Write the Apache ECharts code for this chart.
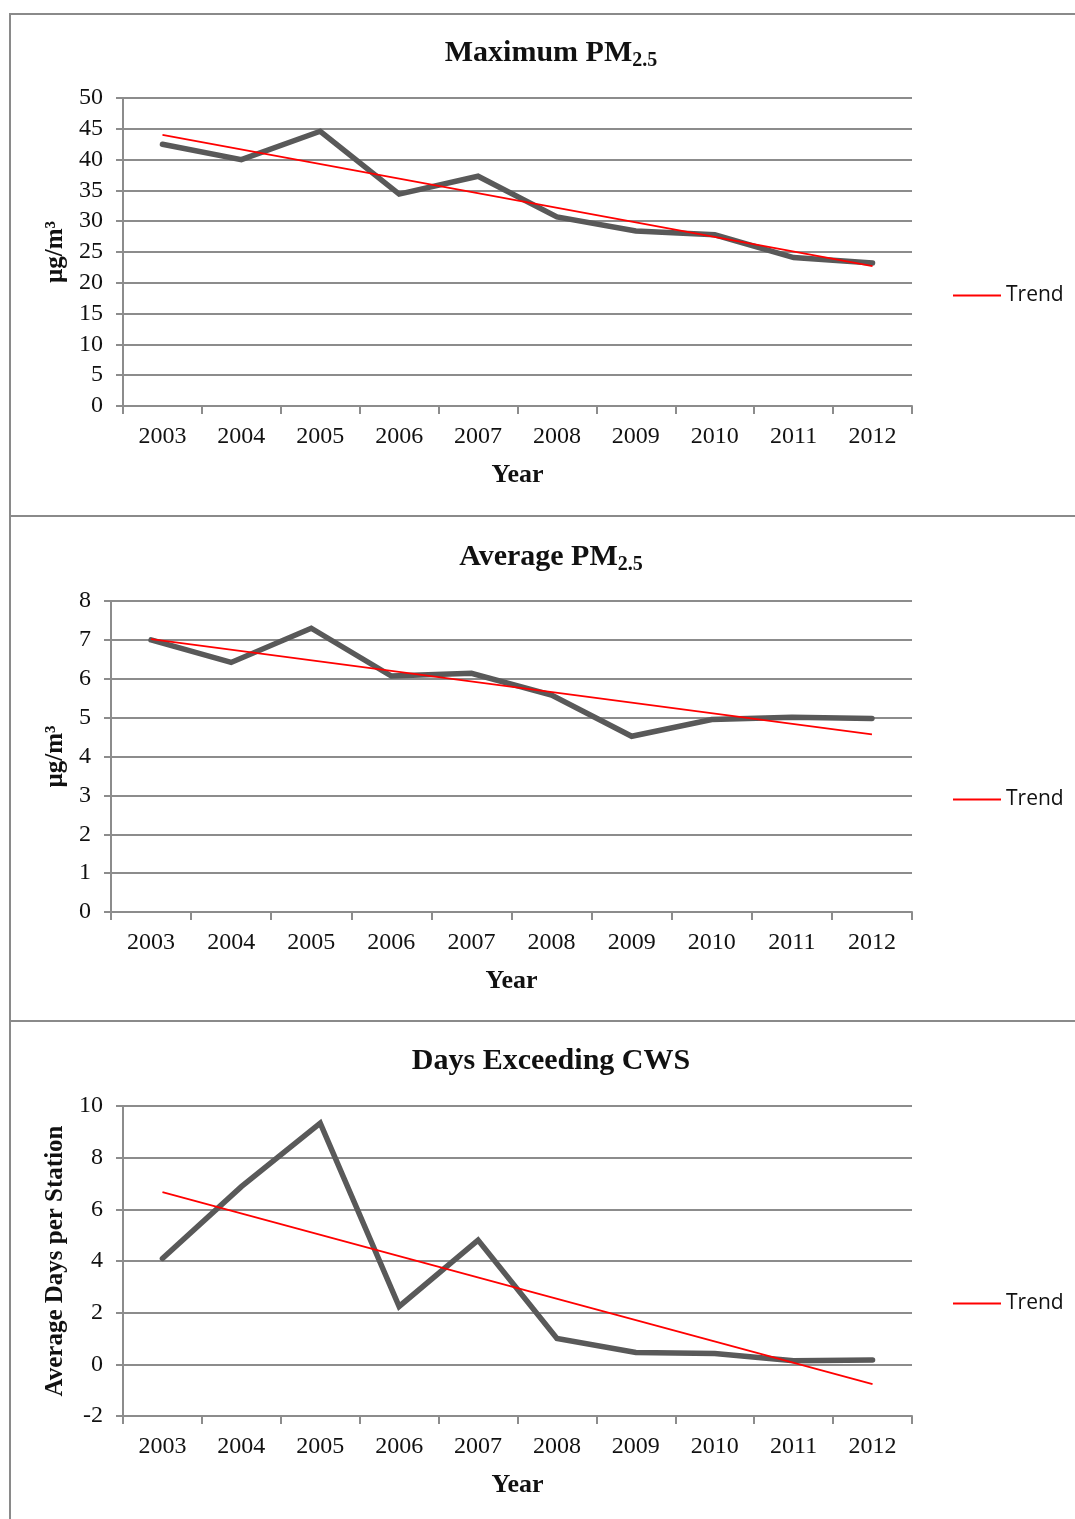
<!DOCTYPE html>
<html>
<head>
<meta charset="utf-8">
<script src="https://cdn.jsdelivr.net/npm/echarts@6/dist/echarts.min.js"></script>
<style>
  html, body { margin: 0; padding: 0; background: #fff; }
  #container { width: 1075px; height: 1519px; }
</style>
</head>
<body>
<div id="container"></div>
<script>
var dom = document.getElementById("container");
var myChart = echarts.init(dom);

var years = ["2003", "2004", "2005", "2006", "2007", "2008", "2009", "2010", "2011", "2012"];
// Maximum PM2.5 (µg/m3)
var maxPM = [42.5, 40.0, 44.6, 34.4, 37.3, 30.7, 28.4, 27.8, 24.1, 23.2];
var maxTrend = [44.0, null, null, null, null, null, null, null, null, 22.7];
// Average PM2.5 (µg/m3)
var avgPM = [7.0, 6.42, 7.3, 6.07, 6.14, 5.58, 4.52, 4.95, 5.01, 4.98];
var avgTrend = [7.02, null, null, null, null, null, null, null, null, 4.57];
// Days exceeding CWS
var daysCWS = [4.1, 6.88, 9.34, 2.24, 4.81, 1.0, 0.46, 0.42, 0.14, 0.17];
var daysTrend = [6.67, null, null, null, null, null, null, null, null, -0.77];

var serif = "'Liberation Serif', 'Times New Roman', serif";
var gridColor = "#8c8c8c";

function titleRich(main, sub) {
  return {
    text: sub ? "{a|" + main + "}{b|" + sub + "}" : "{a|" + main + "}",
    left: 546,
    textAlign: "center",
    textStyle: {
      rich: {
        a: { fontFamily: serif, fontWeight: "bold", fontSize: 30, color: "#111", lineHeight: 36 },
        b: { fontFamily: serif, fontWeight: "bold", fontSize: 20, color: "#111", lineHeight: 36, padding: [15, 0, 0, 0] }
      }
    }
  };
}

function xAxis(gi) {
  return {
    type: "category",
    gridIndex: gi,
    data: years,
    boundaryGap: true,
    name: "Year",
    nameLocation: "middle",
    nameGap: 56,
    nameTextStyle: { fontFamily: serif, fontWeight: "bold", fontSize: 26, color: "#111" },
    axisLine: { onZero: false, lineStyle: { color: gridColor, width: 2 } },
    axisTick: { show: true, length: 8, lineStyle: { color: gridColor, width: 2 } },
    axisLabel: { fontFamily: serif, fontSize: 24, color: "#111", margin: 19 }
  };
}

function yAxis(gi, min, max, interval, name, gap) {
  return {
    type: "value",
    gridIndex: gi,
    min: min,
    max: max,
    interval: interval,
    name: name,
    nameLocation: "middle",
    nameGap: gap,
    nameTextStyle: { fontFamily: serif, fontWeight: "bold", fontSize: 25, color: "#111" },
    axisLine: { show: true, lineStyle: { color: gridColor, width: 2 } },
    axisTick: { show: true, length: 7, lineStyle: { color: gridColor, width: 2 } },
    axisLabel: { fontFamily: serif, fontSize: 24, color: "#111", margin: 20 },
    splitLine: { show: true, lineStyle: { color: gridColor, width: 2 } }
  };
}

function dataSeries(name, idx, values) {
  return {
    name: name,
    type: "line",
    xAxisIndex: idx,
    yAxisIndex: idx,
    data: values,
    showSymbol: false,
    symbol: "none",
    lineStyle: { color: "#595959", width: 5.5, cap: "round", join: "miter" },
    itemStyle: { color: "#595959" },
    z: 3
  };
}

function trendSeries(idx, values) {
  return {
    name: "Trend",
    type: "line",
    xAxisIndex: idx,
    yAxisIndex: idx,
    data: values,
    connectNulls: true,
    showSymbol: false,
    symbol: "none",
    lineStyle: { color: "#ff0000", width: 1.8 },
    itemStyle: { color: "#ff0000" },
    z: 4
  };
}

function legend(top) {
  return {
    data: [{ name: "Trend", icon: "rect" }],
    left: 948,
    top: top,
    itemWidth: 48,
    itemHeight: 2,
    itemGap: 6,
    selectedMode: false,
    textStyle: { fontFamily: "'Open Sans', 'Liberation Sans', sans-serif", fontSize: 21, color: "#111" }
  };
}

var borderStyle = { stroke: "#8a8a8a", lineWidth: 2, fill: null };

option = {
  backgroundColor: "#fff",
  animation: false,
  title: [
    Object.assign(titleRich("Maximum PM", "2.5"), { top: 30 }),
    Object.assign(titleRich("Average PM", "2.5"), { top: 534 }),
    Object.assign(titleRich("Days Exceeding CWS"), { top: 1038 })
  ],
  legend: [legend(280), legend(784), legend(1288)],
  grid: [
    { left: 123, right: 163, top: 98, height: 308 },
    { left: 111, right: 163, top: 601, height: 311 },
    { left: 123, right: 163, top: 1106, height: 310 }
  ],
  xAxis: [xAxis(0), xAxis(1), xAxis(2)],
  yAxis: [
    yAxis(0, 0, 50, 5, "µg/m³", 51),
    yAxis(1, 0, 8, 1, "µg/m³", 39),
    yAxis(2, -2, 10, 2, "Average Days per Station", 50)
  ],
  series: [
    dataSeries("Maximum PM2.5", 0, maxPM),
    trendSeries(0, maxTrend),
    dataSeries("Average PM2.5", 1, avgPM),
    trendSeries(1, avgTrend),
    dataSeries("Days Exceeding CWS", 2, daysCWS),
    trendSeries(2, daysTrend)
  ],
  graphic: [
    { type: "rect", shape: { x: 10, y: 14, width: 1200, height: 502 }, style: borderStyle, silent: true },
    { type: "rect", shape: { x: 10, y: 516, width: 1200, height: 505 }, style: borderStyle, silent: true },
    { type: "rect", shape: { x: 10, y: 1021, width: 1200, height: 520 }, style: borderStyle, silent: true }
  ]
};

if (option && typeof option === "object") {
  myChart.setOption(option, true);
}
</script>
</body>
</html>
